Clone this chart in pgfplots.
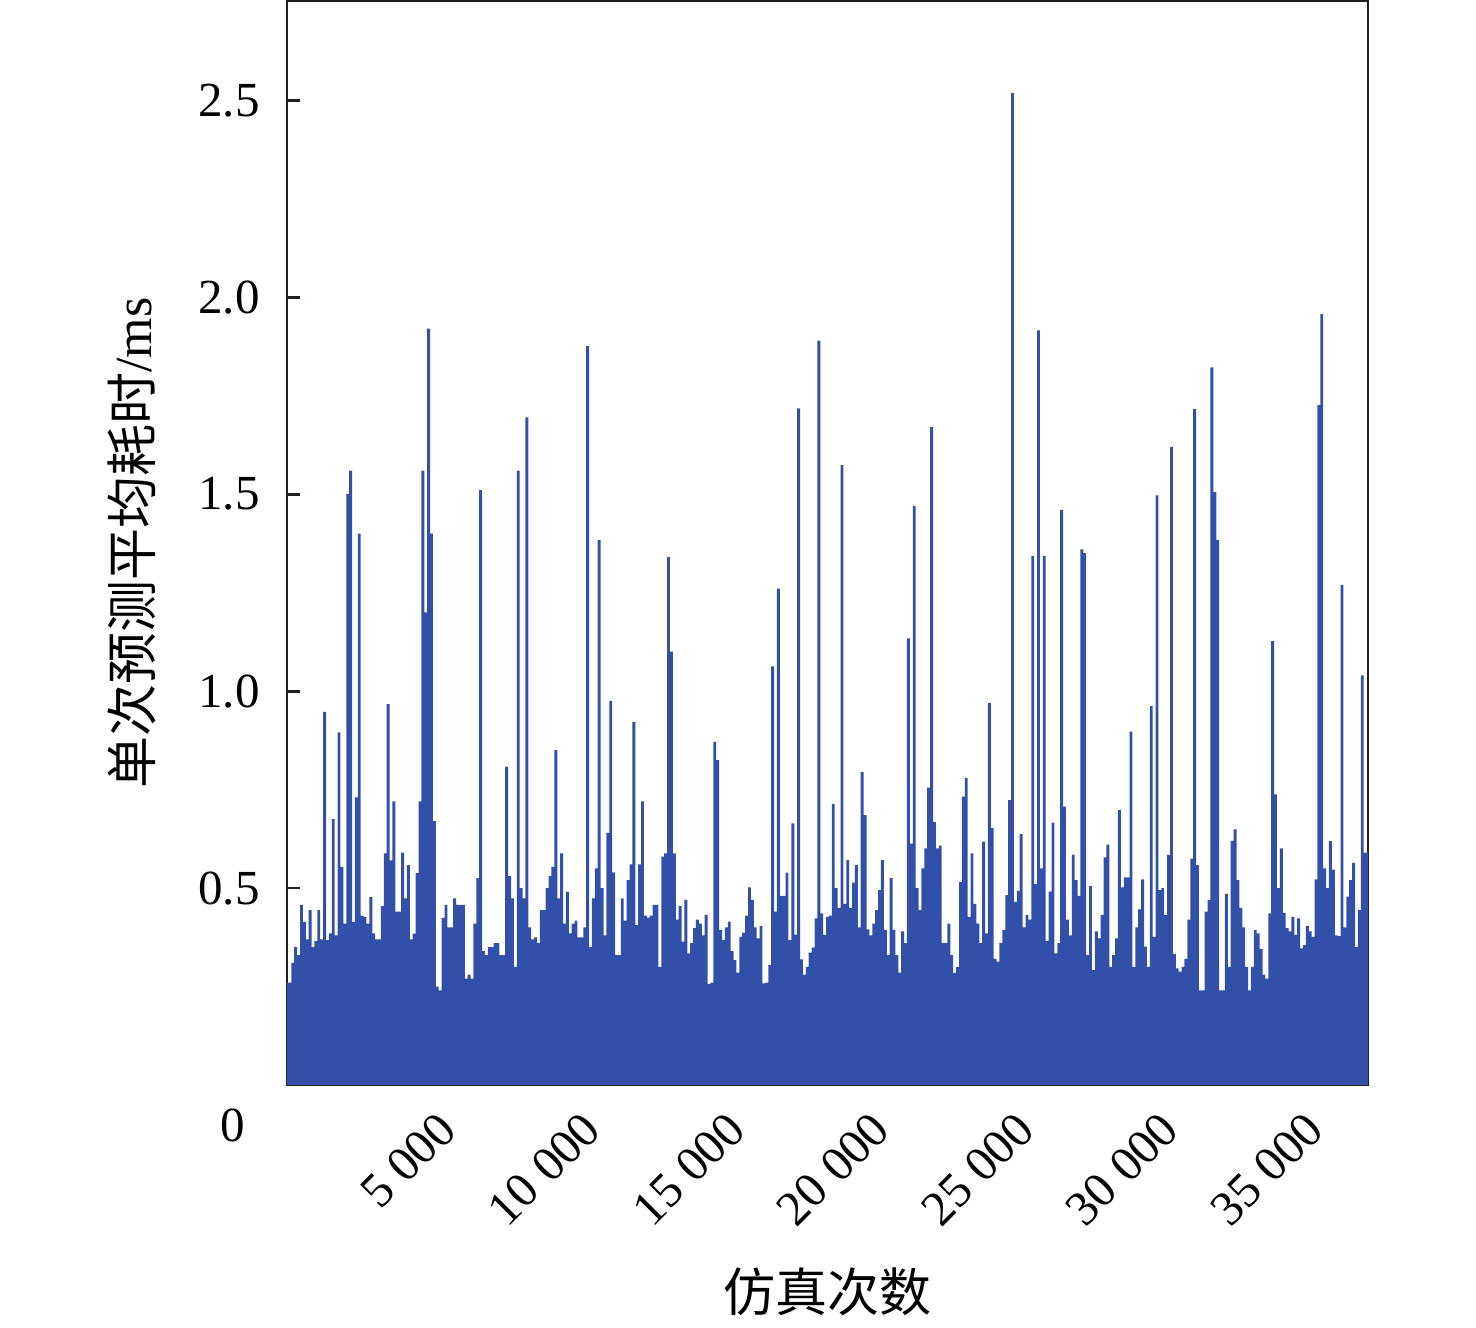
\documentclass[border=0pt]{standalone}
\usepackage{fontspec}
\setmainfont{Liberation Serif}
\newfontfamily\cjk{Noto Sans CJK SC}
\usepackage{pgfplots}
\pgfplotsset{compat=1.18}
\definecolor{barblue}{RGB}{50,80,168}
\definecolor{axk}{RGB}{35,31,32}
\begin{document}
\begin{tikzpicture}
\useasboundingbox (-143.5pt,-121pt) rectangle (594.5pt,542.5pt);
\begin{axis}[
  at={(0,0)}, anchor=south west,
  scale only axis, width=540.5pt, height=542pt,
  xmin=0, xmax=37400, ymin=0, ymax=2.752,
  axis line style={line width=1.4pt, draw=axk},
  tick style={line width=1.4pt, draw=axk},
  major tick length=6.5pt,
  tick align=inside, tick pos=left,
  scaled x ticks=false,
  xtick={5000,10000,15000,20000,25000,30000,35000},
  ytick={0.5,1,1.5,2,2.5},
  /pgf/number format/assume math mode=true,
  /pgf/number format/1000 sep={\hspace{0.26em}},
  yticklabel style={font=\fontsize{24.5pt}{28pt}\selectfont, inner sep=0pt, anchor=east, xshift=-13.5pt,
    /pgf/number format/.cd, fixed, fixed zerofill, precision=1},
  xticklabel style={font=\fontsize{24.5pt}{28pt}\selectfont, inner sep=0pt, xshift=8pt, yshift=-18pt, rotate=45, anchor=east},
  ylabel={{\cjk 单次预测平均耗时}/ms},
  xlabel={\cjk 仿真次数},
  label style={font=\fontsize{26pt}{30pt}\selectfont},
  ylabel style={at={(axis description cs:-0.1434,0.5)}, anchor=center},
  xlabel style={at={(axis description cs:0.5,-0.191)}, anchor=center},
]
\addplot[fill=barblue, draw=none, const plot mark mid] coordinates {
(0,0.26) (100,0.26) (200,0.31) (300,0.35) (400,0.33) (500,0.457) (600,0.414) (700,0.37) (800,0.444) (900,0.35)
(1000,0.365) (1100,0.444) (1200,0.37) (1300,0.947) (1400,0.368) (1500,0.385) (1600,0.675) (1700,0.38) (1800,0.895) (1900,0.554)
(2000,0.41) (2100,1.50) (2200,1.56) (2300,0.414) (2400,0.73) (2500,1.40) (2600,0.43) (2700,0.427) (2800,0.41) (2900,0.477)
(3000,0.385) (3100,0.37) (3200,0.37) (3300,0.454) (3400,0.588) (3500,0.967) (3600,0.57) (3700,0.72) (3800,0.44) (3900,0.44)
(4000,0.59) (4100,0.474) (4200,0.558) (4300,0.37) (4400,0.384) (4500,0.538) (4600,0.72) (4700,1.56) (4800,1.2) (4900,1.92)
(5000,1.40) (5100,0.67) (5200,0.25) (5300,0.24) (5400,0.424) (5500,0.457) (5600,0.40) (5700,0.40) (5800,0.474) (5900,0.457)
(6000,0.457) (6100,0.457) (6200,0.27) (6300,0.28) (6400,0.27) (6500,0.41) (6600,0.525) (6700,1.51) (6800,0.34) (6900,0.33)
(7000,0.35) (7100,0.35) (7200,0.36) (7300,0.36) (7400,0.33) (7500,0.33) (7600,0.808) (7700,0.53) (7800,0.474) (7900,0.30)
(8000,1.56) (8100,0.50) (8200,0.474) (8300,1.695) (8400,0.40) (8500,0.37) (8600,0.375) (8700,0.36) (8800,0.444) (8900,0.444)
(9000,0.50) (9100,0.53) (9200,0.554) (9300,0.85) (9400,0.474) (9500,0.588) (9600,0.41) (9700,0.49) (9800,0.385) (9900,0.41)
(10000,0.417) (10100,0.375) (10200,0.375) (10300,0.40) (10400,1.876) (10500,0.35) (10600,0.474) (10700,0.55) (10800,1.383) (10900,0.50)
(11000,0.38) (11100,0.64) (11200,0.975) (11300,0.54) (11400,0.33) (11500,0.33) (11600,0.474) (11700,0.417) (11800,0.52) (11900,0.56)
(12000,0.922) (12100,0.406) (12200,0.56) (12300,0.72) (12400,0.43) (12500,0.425) (12600,0.43) (12700,0.457) (12800,0.457) (12900,0.30)
(13000,0.58) (13100,0.588) (13200,1.34) (13300,1.10) (13400,0.588) (13500,0.42) (13600,0.455) (13700,0.364) (13800,0.47) (13900,0.334)
(14000,0.36) (14100,0.398) (14200,0.42) (14300,0.41) (14400,0.38) (14500,0.432) (14600,0.256) (14700,0.26) (14800,0.871) (14900,0.825)
(15000,0.394) (15100,0.368) (15200,0.40) (15300,0.415) (15400,0.34) (15500,0.317) (15600,0.285) (15700,0.376) (15800,0.387) (15900,0.43)
(16000,0.502) (16100,0.47) (16200,0.40) (16300,0.372) (16400,0.404) (16500,0.258) (16600,0.26) (16700,0.305) (16800,1.063) (16900,0.44)
(17000,1.26) (17100,0.48) (17200,0.48) (17300,0.539) (17400,0.368) (17500,0.664) (17600,0.382) (17700,1.718) (17800,0.319) (17900,0.28)
(18000,0.30) (18100,0.336) (18200,0.349) (18300,0.423) (18400,1.89) (18500,0.436) (18600,0.381) (18700,0.427) (18800,0.43) (18900,0.713)
(19000,0.50) (19100,0.45) (19200,1.574) (19300,0.46) (19400,0.571) (19500,0.45) (19600,0.514) (19700,0.558) (19800,0.40) (19900,0.794)
(20000,0.685) (20100,0.395) (20200,0.38) (20300,0.41) (20400,0.444) (20500,0.495) (20600,0.571) (20700,0.394) (20800,0.33) (20900,0.525)
(21000,0.394) (21100,0.33) (21200,0.285) (21300,0.39) (21400,0.36) (21500,1.134) (21600,0.613) (21700,1.47) (21800,0.50) (21900,0.444)
(22000,0.55) (22100,0.601) (22200,0.755) (22300,1.67) (22400,0.668) (22500,0.601) (22600,0.608) (22700,0.36) (22800,0.36) (22900,0.41)
(23000,0.33) (23100,0.284) (23200,0.30) (23300,0.516) (23400,0.732) (23500,0.78) (23600,0.427) (23700,0.588) (23800,0.46) (23900,0.41)
(24000,0.36) (24100,0.618) (24200,0.385) (24300,0.97) (24400,0.652) (24500,0.32) (24600,0.313) (24700,0.36) (24800,0.394) (24900,0.482)
(25000,0.723) (25100,2.518) (25200,0.465) (25300,0.493) (25400,0.637) (25500,0.40) (25600,0.432) (25700,0.42) (25800,1.343) (25900,0.51)
(26000,1.916) (26100,0.55) (26200,1.343) (26300,0.366) (26400,0.491) (26500,0.666) (26600,0.334) (26700,0.36) (26800,1.46) (26900,0.707)
(27000,0.42) (27100,0.38) (27200,0.585) (27300,0.52) (27400,0.48) (27500,1.36) (27600,1.35) (27700,0.33) (27800,0.505) (27900,0.292)
(28000,0.39) (28100,0.372) (28200,0.432) (28300,0.578) (28400,0.61) (28500,0.30) (28600,0.33) (28700,0.372) (28800,0.698) (28900,0.502)
(29000,0.527) (29100,0.527) (29200,0.897) (29300,0.30) (29400,0.40) (29500,0.446) (29600,0.522) (29700,0.351) (29800,0.30) (29900,0.962)
(30000,0.376) (30100,1.497) (30200,0.495) (30300,0.50) (30400,0.432) (30500,0.584) (30600,1.62) (30700,0.332) (30800,0.296) (30900,0.288)
(31000,0.30) (31100,0.32) (31200,0.42) (31300,0.575) (31400,1.716) (31500,0.558) (31600,0.24) (31700,0.24) (31800,0.44) (31900,0.47)
(32000,1.822) (32100,1.505) (32200,1.383) (32300,0.24) (32400,0.24) (32500,0.485) (32600,0.30) (32700,0.62) (32800,0.649) (32900,0.52)
(33000,0.45) (33100,0.40) (33200,0.30) (33300,0.24) (33400,0.30) (33500,0.394) (33600,0.385) (33700,0.345) (33800,0.28) (33900,0.27)
(34000,0.436) (34100,1.127) (34200,0.738) (34300,0.50) (34400,0.601) (34500,0.437) (34600,0.398) (34700,0.39) (34800,0.427) (34900,0.381)
(35000,0.423) (35100,0.347) (35200,0.355) (35300,0.404) (35400,0.39) (35500,0.376) (35600,0.522) (35700,1.726) (35800,1.957) (35900,0.55)
(36000,0.50) (36100,0.619) (36200,0.547) (36300,0.38) (36400,0.378) (36500,1.27) (36600,0.40) (36700,0.478) (36800,0.52) (36900,0.564)
(37000,0.35) (37100,0.444) (37200,1.04) (37300,0.59) (37400,0.59)
} \closedcycle;
\end{axis}
\node[font=\fontsize{24.5pt}{28pt}\selectfont, inner sep=0pt] at (-27pt,-20pt) {0};
\end{tikzpicture}
\end{document}
